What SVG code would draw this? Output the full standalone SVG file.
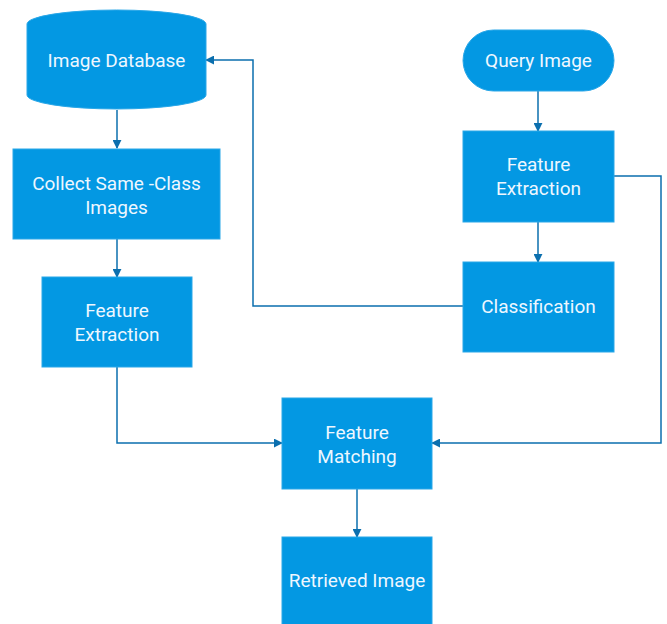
<svg xmlns="http://www.w3.org/2000/svg" width="667" height="624" viewBox="0 0 667 624">
  <defs>
    <marker id="arrow" viewBox="0 0 10 10" refX="9" refY="5" markerWidth="6" markerHeight="6" orient="auto-start-reverse" markerUnits="strokeWidth">
      <path d="M0,0 L10,5 L0,10 z" fill="#0b6fae"/>
    </marker>
  </defs>
  <style>
    .node { fill: #0398e3; stroke: #2aa7e8; stroke-width: 1; }
    .label { font-family: Roboto, "Liberation Sans", sans-serif; font-size: 19px; fill: #eef7ff; text-anchor: middle; dominant-baseline: central; }
    .edge { fill: none; stroke: #0b6fae; stroke-width: 1.5; }
  </style>
  <rect width="667" height="624" fill="#ffffff"/>

  <g id="connectors">
    <path class="edge" d="M117,110 L117,148" marker-end="url(#arrow)"/>
    <path class="edge" d="M117,239 L117,277" marker-end="url(#arrow)"/>
    <path class="edge" d="M117,367 L117,443 L282,443" marker-end="url(#arrow)"/>
    <path class="edge" d="M538,91 L538,131" marker-end="url(#arrow)"/>
    <path class="edge" d="M538,222 L538,262" marker-end="url(#arrow)"/>
    <path class="edge" d="M463,306 L253,306 L253,60 L206,60" marker-end="url(#arrow)"/>
    <path class="edge" d="M614,176 L661,176 L661,443 L432,443" marker-end="url(#arrow)"/>
    <path class="edge" d="M357,489 L357,537" marker-end="url(#arrow)"/>
  </g>

  <g id="image-database">
    <path class="node" d="M27,24 A89.5,14 0 0 1 206,24 L206,95 A89.5,14 0 0 1 27,95 Z"/>
    <text class="label" x="116.5" y="60">Image Database</text>
  </g>

  <g id="collect-same-class">
    <rect class="node" x="13" y="149" width="207" height="90"/>
    <text class="label" x="116.5" y="183">Collect Same -Class</text>
    <text class="label" x="116.5" y="207">Images</text>
  </g>

  <g id="feature-extraction-db">
    <rect class="node" x="42" y="277" width="150" height="90"/>
    <text class="label" x="117" y="310">Feature</text>
    <text class="label" x="117" y="334">Extraction</text>
  </g>

  <g id="query-image">
    <rect class="node" x="463" y="30" width="151" height="61" rx="30.5" ry="30.5"/>
    <text class="label" x="538.5" y="60">Query Image</text>
  </g>

  <g id="feature-extraction-query">
    <rect class="node" x="463" y="131" width="151" height="91"/>
    <text class="label" x="538.5" y="164">Feature</text>
    <text class="label" x="538.5" y="188">Extraction</text>
  </g>

  <g id="classification">
    <rect class="node" x="463" y="262" width="151" height="90"/>
    <text class="label" x="538.5" y="306">Classification</text>
  </g>

  <g id="feature-matching">
    <rect class="node" x="282" y="398" width="150" height="91"/>
    <text class="label" x="357" y="432">Feature</text>
    <text class="label" x="357" y="456">Matching</text>
  </g>

  <g id="retrieved-image">
    <rect class="node" x="282" y="537" width="150" height="92"/>
    <text class="label" x="357" y="580">Retrieved Image</text>
  </g>
</svg>
